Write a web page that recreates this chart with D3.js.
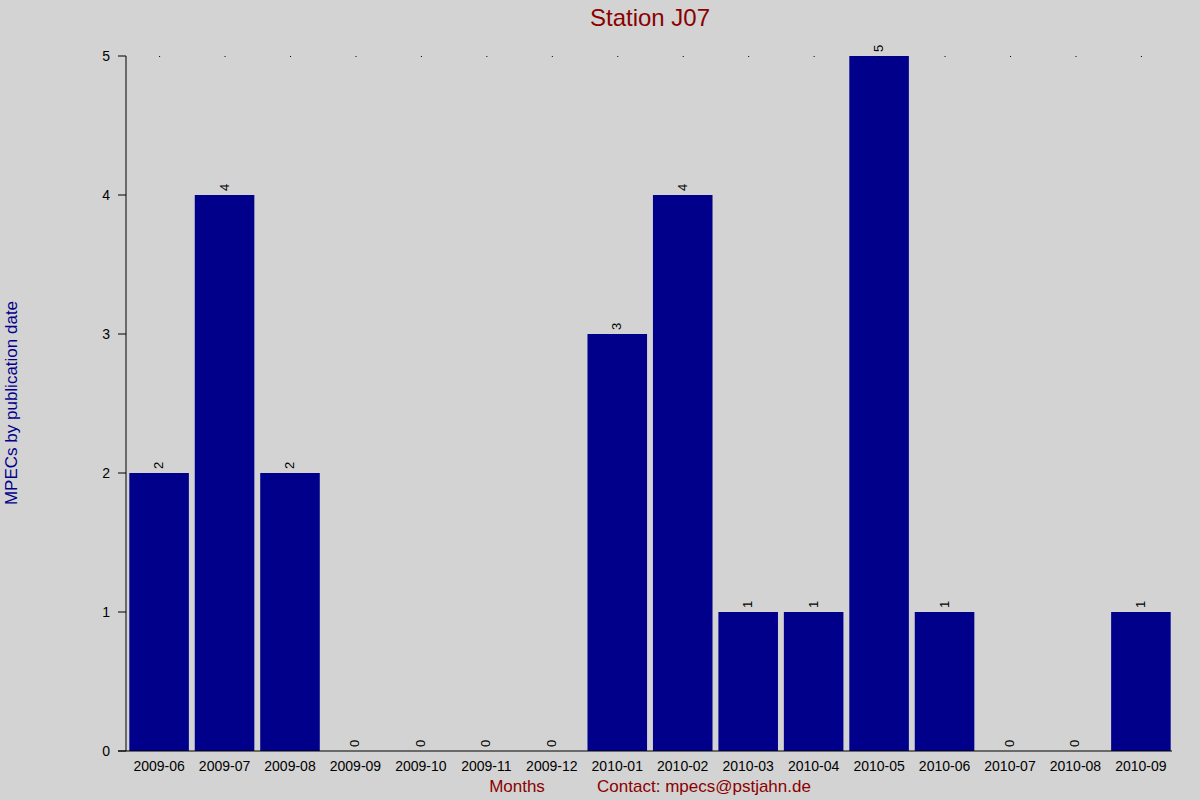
<!DOCTYPE html><html><head><script src="https://d3js.org/d3.v7.min.js"></script>
<style>body{margin:0;background:#d3d3d3}text{font-family:"Liberation Sans",Arial,sans-serif}</style></head><body>
<script>
const months=["2009-06","2009-07","2009-08","2009-09","2009-10","2009-11","2009-12","2010-01","2010-02","2010-03","2010-04","2010-05","2010-06","2010-07","2010-08","2010-09"];
const counts=[2,4,2,0,0,0,0,3,4,1,1,5,1,0,0,1];
const yTicks=[0,1,2,3,4,5];
const svg=d3.select("body").append("svg").attr("width",1200).attr("height",800).style("background","#d3d3d3");
const x=d3.scaleBand().domain(months).range([128,1172]).paddingInner(0.09).paddingOuter(0.02);
const y=d3.scaleLinear().domain([0,5]).range([751,56]);
svg.append("text").attr("x",650).attr("y",26).attr("text-anchor","middle").attr("font-size",24).attr("fill","#8b0000").text("Station J07");
svg.selectAll(".b").data(months).join("rect").attr("x",d=>x(d)).attr("width",x.bandwidth()).attr("y",(d,i)=>y(counts[i])).attr("height",(d,i)=>751-y(counts[i])).attr("fill","#00008b");
svg.selectAll(".dot").data(months).join("rect").attr("x",d=>x(d)+x.bandwidth()/2).attr("y",56).attr("width",1).attr("height",1).attr("fill","#000");
svg.selectAll(".v").data(months).join("text").attr("transform",(d,i)=>`translate(${x(d)+x.bandwidth()/2+4},${y(counts[i])-4}) rotate(-90)`).attr("font-size",13).text((d,i)=>counts[i]);
svg.append("line").attr("x1",126).attr("x2",126).attr("y1",56).attr("y2",751).attr("stroke","#000");
svg.append("line").attr("x1",118).attr("x2",1172).attr("y1",751).attr("y2",751).attr("stroke","#000");
svg.selectAll(".yt").data(yTicks).join("line").attr("x1",118).attr("x2",126).attr("y1",d=>y(d)).attr("y2",d=>y(d)).attr("stroke","#000");
svg.selectAll(".yl").data(yTicks).join("text").attr("x",110).attr("y",d=>y(d)+5).attr("text-anchor","end").attr("font-size",14).text(d=>d);
svg.selectAll(".xl").data(months).join("text").attr("x",d=>x(d)+x.bandwidth()/2).attr("y",771).attr("text-anchor","middle").attr("font-size",14).text(d=>d);
svg.append("text").attr("x",517).attr("y",792).attr("text-anchor","middle").attr("font-size",17).attr("fill","#8b0000").text("Months");
svg.append("text").attr("x",704).attr("y",792).attr("text-anchor","middle").attr("font-size",17).attr("fill","#8b0000").text("Contact: mpecs@pstjahn.de");
svg.append("text").attr("transform","translate(17,403) rotate(-90)").attr("text-anchor","middle").attr("font-size",17).attr("fill","#00008b").text("MPECs by publication date");
</script></body></html>
